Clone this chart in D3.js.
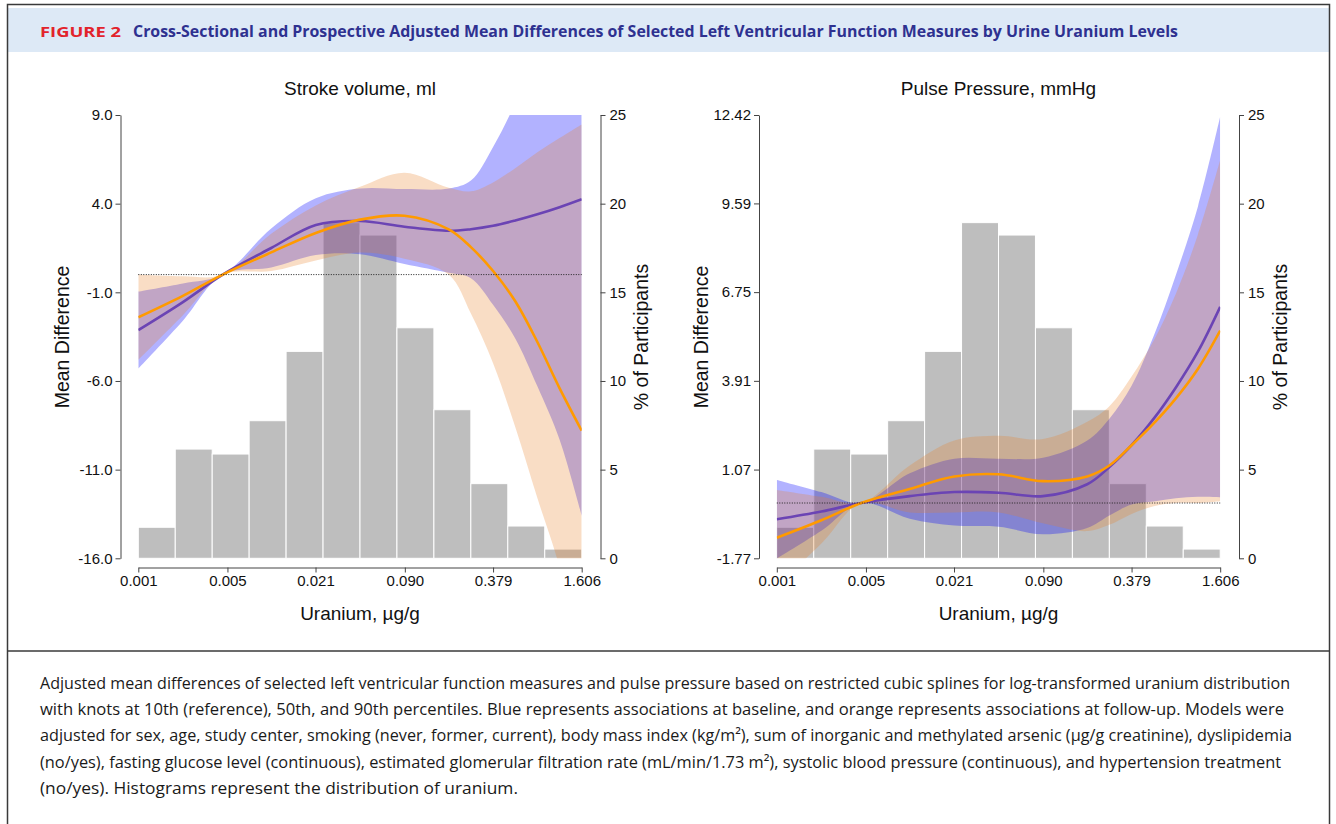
<!DOCTYPE html>
<html>
<head>
<meta charset="utf-8">
<script src="https://cdn.jsdelivr.net/npm/d3@7"></script>
<style>
  body { margin: 0; background: #fff; }
  svg { display: block; }
</style>
</head>
<body>
<div id="figure"></div>
<script>
const uranium = [0.00117, 0.00242, 0.00463, 0.0102, 0.0211, 0.0434, 0.0894, 0.184, 0.264, 0.379, 0.544, 0.780, 1.119, 1.606];

// histogram of uranium, % of participants (12 log-spaced bins)
const histPct = [1.75, 6.16, 5.88, 7.76, 11.67, 18.93, 18.23, 13.0, 8.38, 4.21, 1.82, 0.52];

// Stroke volume, ml
const strokeBase   = [-3.13, -1.55, 0, 1.5, 2.8, 3.02, 2.7, 2.47, 2.56, 2.75, 3.05, 3.4, 3.8, 4.25];
const strokeBaseHi = [-0.96, -0.5, 0, 2.6, 4.3, 4.85, 4.82, 4.85, 5.3, 7.2, 9.7, 13.1, 16.9, 22.1];
const strokeBaseLo = [-5.3, -2.6, 0, 0.4, 1.1, 1.15, 0.6, 0.1, -0.2, -1.7, -3.6, -6.3, -9.3, -13.6];
const strokeFollow   = [-2.41, -1.2, 0, 1.25, 2.35, 3.1, 3.32, 2.55, 1.55, 0.2, -1.5, -3.8, -6.4, -8.8];
const strokeFollowHi = [0.0, -0.1, 0, 2.3, 3.9, 4.95, 5.75, 4.9, 4.7, 5.2, 6.0, 6.9, 7.7, 8.47];
const strokeFollowLo = [-4.82, -2.3, 0, 0.2, 0.8, 1.25, 0.9, 0.0, -2.2, -5.0, -8.6, -12.6, -16.5, -22];

// Pulse pressure, mmHg
const pulseBase   = [-0.52, -0.27, 0, 0.22, 0.35, 0.33, 0.22, 0.6, 1.15, 1.85, 2.7, 3.7, 4.85, 6.28];
const pulseBaseHi = [0.74, 0.35, 0, 0.95, 1.42, 1.42, 1.45, 2.0, 2.7, 3.75, 5.35, 7.3, 9.5, 12.37];
const pulseBaseLo = [-1.78, -0.89, 0, -0.5, -0.72, -0.76, -1.0, -0.8, -0.4, -0.05, 0.05, 0.15, 0.2, 0.18];
const pulseFollow   = [-1.11, -0.55, 0, 0.45, 0.85, 0.92, 0.7, 0.85, 1.2, 1.85, 2.55, 3.35, 4.3, 5.52];
const pulseFollowHi = [0.42, 0.2, 0, 1.2, 2.0, 2.15, 2.05, 2.6, 3.1, 4.05, 5.2, 6.7, 8.6, 10.98];
const pulseFollowLo = [-2.64, -1.3, 0, -0.3, -0.3, -0.3, -0.65, -0.9, -0.7, -0.35, -0.1, 0.0, 0.0, 0.06];

// axes
const xTickValues = [0.00117, 0.005, 0.021, 0.090, 0.379, 1.606];
const xTickLabels = ["0.001", "0.005", "0.021", "0.090", "0.379", "1.606"];
const strokeTicks = [9.0, 4.0, -1.0, -6.0, -11.0, -16.0];
const pulseTicks = [12.42, 9.59, 6.75, 3.91, 1.07, -1.77];
const pctTicks = [0, 5, 10, 15, 20, 25];

const captionLines = [
  "Adjusted mean differences of selected left ventricular function measures and pulse pressure based on restricted cubic splines for log-transformed uranium distribution",
  "with knots at 10th (reference), 50th, and 90th percentiles. Blue represents associations at baseline, and orange represents associations at follow-up. Models were",
  "adjusted for sex, age, study center, smoking (never, former, current), body mass index (kg/m\u00b2), sum of inorganic and methylated arsenic (\u00b5g/g creatinine), dyslipidemia",
  "(no/yes), fasting glucose level (continuous), estimated glomerular filtration rate (mL/min/1.73 m\u00b2), systolic blood pressure (continuous), and hypertension treatment",
  "(no/yes). Histograms represent the distribution of uranium."
];
const captionWidths = [1250, 1244, 1252, 1241, 478];

const W = 1336, H = 824;
const svg = d3.select("#figure").append("svg").attr("width", W).attr("height", H);
svg.append("rect").attr("width", W).attr("height", H).attr("fill", "#fff");

// header band + frame
svg.append("rect").attr("x", 8).attr("y", 8).attr("width", 1321).attr("height", 44).attr("fill", "#dde9f6");
svg.append("rect").attr("x", 7.5).attr("y", 4.5).attr("width", 1322).attr("height", 840)
  .attr("fill", "none").attr("stroke", "#3a3a3a").attr("stroke-width", 1.5);
svg.append("line").attr("x1", 7.5).attr("x2", 1329.5).attr("y1", 651).attr("y2", 651)
  .attr("stroke", "#3a3a3a").attr("stroke-width", 1.5);

const hdrFont = "'Liberation Sans Narrow', 'Open Sans', sans-serif";
svg.append("text").attr("x", 40).attr("y", 37).text("FIGURE 2")
  .attr("font-family", hdrFont).attr("font-weight", "bold").attr("font-size", 15)
  .attr("fill", "#e2232b").attr("textLength", 81).attr("lengthAdjust", "spacingAndGlyphs");
svg.append("text").attr("x", 133).attr("y", 37)
  .text("Cross-Sectional and Prospective Adjusted Mean Differences of Selected Left Ventricular Function Measures by Urine Uranium Levels")
  .attr("font-family", hdrFont).attr("font-weight", "bold").attr("font-size", 16.5)
  .attr("fill", "#2e3190").attr("textLength", 1045).attr("lengthAdjust", "spacingAndGlyphs");

// caption
captionLines.forEach(function(line, i) {
  svg.append("text").attr("x", 40).attr("y", 689 + i * 26.2).text(line)
    .attr("font-family", hdrFont).attr("font-size", 16.5).attr("fill", "#1a1a1a")
    .attr("textLength", captionWidths[i]).attr("lengthAdjust", "spacingAndGlyphs");
});

const chartFont = "'Liberation Sans', Arial, sans-serif";

function drawPanel(opt) {
  const ox = opt.offset;
  const x0 = 138.3 + ox, x1 = 581.7 + ox, yTop = 115, yBot = 558.3;
  const g = svg.append("g");

  const x = d3.scaleLog().domain([xTickValues[0], xTickValues[5]]).range([x0, x1]);
  const y = d3.scaleLinear().domain([opt.ticks[opt.ticks.length - 1], opt.ticks[0]]).range([yBot, yTop]);
  const yPct = d3.scaleLinear().domain([0, 25]).range([yBot, yTop]);

  const clipId = "clip" + opt.id;
  svg.append("clipPath").attr("id", clipId).append("rect")
    .attr("x", x0).attr("y", yTop).attr("width", x1 - x0).attr("height", yBot - yTop);

  // histogram bins: equal width on the log axis
  const lnMin = Math.log(xTickValues[0]), lnMax = Math.log(xTickValues[5]);
  const edges = d3.range(13).map(i => Math.exp(lnMin + i * (lnMax - lnMin) / 12));
  g.selectAll(".bar").data(histPct).enter().append("rect")
    .attr("x", (d, i) => x(edges[i]))
    .attr("width", (d, i) => x(edges[i + 1]) - x(edges[i]))
    .attr("y", d => yPct(d))
    .attr("height", d => yBot - yPct(d))
    .attr("fill", "#bebebe").attr("stroke", "#fff").attr("stroke-width", 1);

  const band = d3.area()
    .x((d, i) => x(uranium[i]))
    .y0(d => y(d[0])).y1(d => y(d[1]))
    .curve(d3.curveCatmullRom.alpha(0.5));
  const line = d3.line()
    .x((d, i) => x(uranium[i]))
    .y(d => y(d))
    .curve(d3.curveCatmullRom.alpha(0.5));

  const clipped = g.append("g").attr("clip-path", "url(#" + clipId + ")");
  clipped.append("path").datum(opt.baseLo.map((v, i) => [v, opt.baseHi[i]]))
    .attr("d", band).attr("fill", "#0000ff").attr("fill-opacity", 0.3);
  clipped.append("path").datum(opt.followLo.map((v, i) => [v, opt.followHi[i]]))
    .attr("d", band).attr("fill", "rgb(232,130,40)").attr("fill-opacity", 0.27);

  // reference line at zero
  g.append("line").attr("x1", x0).attr("x2", x1).attr("y1", y(0)).attr("y2", y(0))
    .attr("stroke", "#222").attr("stroke-width", 1).attr("stroke-dasharray", "1,1.5");

  clipped.append("path").datum(opt.base).attr("d", line)
    .attr("fill", "none").attr("stroke", "#6b44b4").attr("stroke-width", 2.6);
  clipped.append("path").datum(opt.follow).attr("d", line)
    .attr("fill", "none").attr("stroke", "#ff9a00").attr("stroke-width", 2.6);

  // axes (R style: hyphen minus, outward ticks)
  const fmt = d3.format(opt.fmt);
  const xAxis = d3.axisBottom(x).tickValues(xTickValues)
    .tickFormat((d, i) => xTickLabels[i]).tickSize(5).tickSizeOuter(0).tickPadding(3);
  const gx = g.append("g").attr("transform", "translate(0," + 567.5 + ")").call(xAxis);

  const yAxis = d3.axisLeft(y).tickValues(opt.ticks)
    .tickFormat(d => fmt(d).replace("\u2212", "-")).tickSize(5).tickSizeOuter(0).tickPadding(3);
  const gy = g.append("g").attr("transform", "translate(" + (120.5 + ox) + ",0)").call(yAxis);

  const pAxis = d3.axisRight(yPct).tickValues(pctTicks).tickSize(5).tickSizeOuter(0).tickPadding(4);
  const gp = g.append("g").attr("transform", "translate(" + (600.5 + ox) + ",0)").call(pAxis);

  [gx, gy, gp].forEach(function(a) {
    a.selectAll("path, line").attr("stroke", "#444");
    a.selectAll("text").attr("font-family", chartFont).attr("font-size", 15).attr("fill", "#111");
  });

  // titles
  const cx = (x0 + x1) / 2;
  g.append("text").attr("x", cx).attr("y", 95).attr("text-anchor", "middle").text(opt.title)
    .attr("font-family", chartFont).attr("font-size", 19).attr("fill", "#111");
  g.append("text").attr("x", cx).attr("y", 620).attr("text-anchor", "middle").text("Uranium, \u00b5g/g")
    .attr("font-family", chartFont).attr("font-size", 19).attr("fill", "#111");
  g.append("text").attr("transform", "translate(" + (69 + ox) + ",337) rotate(-90)")
    .attr("text-anchor", "middle").text("Mean Difference")
    .attr("font-family", chartFont).attr("font-size", 19.5).attr("fill", "#111");
  g.append("text").attr("transform", "translate(" + (648 + ox) + ",337) rotate(-90)")
    .attr("text-anchor", "middle").text("% of Participants")
    .attr("font-family", chartFont).attr("font-size", 19.5).attr("fill", "#111");
}

drawPanel({
  id: "sv", offset: 0, title: "Stroke volume, ml", ticks: strokeTicks, fmt: ".1f",
  base: strokeBase, baseLo: strokeBaseLo, baseHi: strokeBaseHi,
  follow: strokeFollow, followLo: strokeFollowLo, followHi: strokeFollowHi
});
drawPanel({
  id: "pp", offset: 638.5, title: "Pulse Pressure, mmHg", ticks: pulseTicks, fmt: ".2f",
  base: pulseBase, baseLo: pulseBaseLo, baseHi: pulseBaseHi,
  follow: pulseFollow, followLo: pulseFollowLo, followHi: pulseFollowHi
});
</script>
</body>
</html>
